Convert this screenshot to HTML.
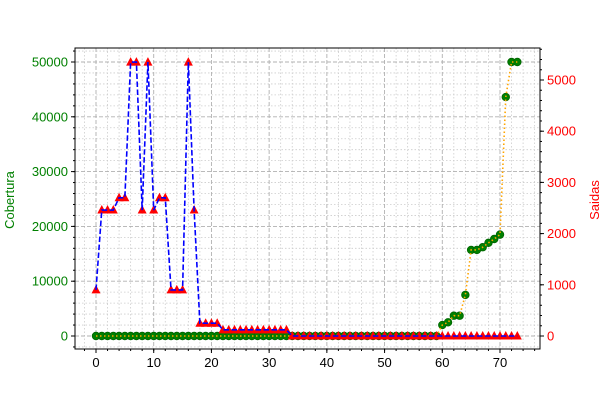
<!DOCTYPE html>
<html><head><meta charset="utf-8"><style>body{margin:0;background:#fff}svg{font-family:"Liberation Sans","DejaVu Sans",sans-serif}</style></head>
<body>
<svg id="c" width="600" height="400"></svg>
<script>
const cobertura=[0,0,0,0,0,0,0,0,0,0,0,0,0,0,0,0,0,0,0,0,0,0,0,0,0,0,0,0,0,0,0,0,0,0,0,0,0,0,0,0,0,0,0,0,0,0,0,0,0,0,0,0,0,0,0,0,0,0,0,0,2000,2500,3700,3700,7500,15700,15700,16200,17000,17700,18500,43600,50000,50000];
const saidas=[900,2460,2460,2460,2700,2700,5350,5350,2460,5350,2460,2700,2700,900,900,900,5350,2460,250,250,250,250,120,120,120,120,120,120,120,120,120,120,120,120,0,0,0,0,0,0,0,0,0,0,0,0,0,0,0,0,0,0,0,0,0,0,0,0,0,0,0,0,0,0,0,0,0,0,0,0,0,0,0,0];
const xTicks=[0,10,20,30,40,50,60,70];
const leftTicks=[0,10000,20000,30000,40000,50000];
const rightTicks=[0,1000,2000,3000,4000,5000];
const NS="http://www.w3.org/2000/svg",svg=document.getElementById('c');
const L=75,R=540,T=48,B=349;
const sx=v=>96+v*(404/70);
const sl=v=>336-v*0.00548;
const sr=v=>336-v*0.0512;
function el(t,a,p){const e=document.createElementNS(NS,t);for(const k in a)e.setAttribute(k,a[k]);(p||svg).appendChild(e);return e;}
const g=el('g',{});


for(let v=-2;v<=76;v+=2){if(v%10===0)continue;el('line',{x1:sx(v),x2:sx(v),y1:T,y2:B,stroke:'#ccc','stroke-dasharray':'1.5,2','stroke-width':0.8},g);}
for(let v=-2000;v<=52000;v+=2000){if(v%10000===0)continue;el('line',{x1:L,x2:R,y1:sl(v),y2:sl(v),stroke:'#ccc','stroke-dasharray':'1.5,2','stroke-width':0.8},g);}
for(const v of xTicks)el('line',{x1:sx(v),x2:sx(v),y1:T,y2:B,stroke:'#b0b0b0','stroke-dasharray':'4,2','stroke-width':0.9},g);
for(const v of leftTicks)el('line',{x1:L,x2:R,y1:sl(v),y2:sl(v),stroke:'#b0b0b0','stroke-dasharray':'4,2','stroke-width':0.9},g);
for(const v of xTicks){el('line',{x1:sx(v),x2:sx(v),y1:B,y2:B+4,stroke:'#000'});const t=el('text',{x:sx(v),y:B+18,'text-anchor':'middle','font-size':13,fill:'#000'});t.textContent=v;}
for(let v=-2;v<=76;v+=2)el('line',{x1:sx(v),x2:sx(v),y1:B,y2:B+2,stroke:'#000'});
for(const v of leftTicks){el('line',{x1:L-4,x2:L,y1:sl(v),y2:sl(v),stroke:'#000'});const t=el('text',{x:L-7,y:sl(v)+4.5,'text-anchor':'end','font-size':13,fill:'green'});t.textContent=v;}
for(let v=-2000;v<=52000;v+=2000)el('line',{x1:L-2,x2:L,y1:sl(v),y2:sl(v),stroke:'#000'});
for(const v of rightTicks){el('line',{x1:R,x2:R+4,y1:sr(v),y2:sr(v),stroke:'#000'});const t=el('text',{x:R+7,y:sr(v)+4.5,'font-size':13,fill:'red'});t.textContent=v;}
for(let v=0;v<=5600;v+=200)el('line',{x1:R,x2:R+2,y1:sr(v),y2:sr(v),stroke:'#000'});
// cobertura first
const cp=cobertura.map((v,i)=>sx(i)+','+sl(v)).join(' ');
cobertura.forEach((v,i)=>{const c=el('circle',{cx:sx(i),cy:sl(v),r:3.8,fill:'green',stroke:'#006400','stroke-width':0.8});});
const cl=el('polyline',{points:cp,fill:'none',stroke:'orange','stroke-width':1.6,'stroke-dasharray':'1.5,2.5'});

// saidas on top
const sp=saidas.map((v,i)=>sx(i)+','+sr(v)).join(' ');
saidas.forEach((v,i)=>{const x=sx(i),y=sr(v);const p=el('polygon',{points:`${x},${y-5} ${x-4.5},${y+3.5} ${x+4.5},${y+3.5}`,fill:'red'});});
const sl1=el('polyline',{points:sp,fill:'none',stroke:'blue','stroke-width':1.6,'stroke-dasharray':'5.5,2.5'});

const fr=el('rect',{x:L,y:T,width:R-L,height:B-T,fill:'none',stroke:'#000','stroke-width':1});

const yl=el('text',{x:14,y:200,'text-anchor':'middle','font-size':13,fill:'green',transform:'rotate(-90 14 200)'});yl.textContent='Cobertura';

const yr=el('text',{x:599,y:200,'text-anchor':'middle','font-size':13,fill:'red',transform:'rotate(-90 599 200)'});yr.textContent='Saidas';

</script>
</body></html>
